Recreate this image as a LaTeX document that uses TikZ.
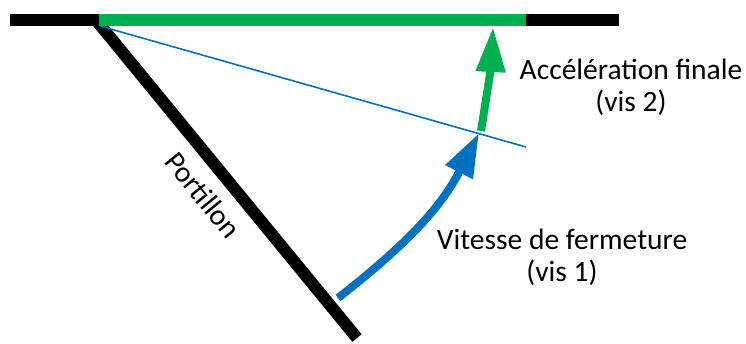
\documentclass[tikz,border=0pt]{standalone}
\usepackage{fontspec}
\setmainfont{Carlito}
\usetikzlibrary{arrows.meta}
\definecolor{myblue}{HTML}{0070C0}
\definecolor{mygreen}{HTML}{00B050}
\tikzset{
  bar/.style={line width=12pt, line cap=butt},
  arc/.style={line width=8pt, line cap=butt},
  lbl/.style={font=\fontsize{29.5}{32}\selectfont, align=center, inner sep=0pt},
}
\begin{document}
\begin{tikzpicture}[x=1pt,y=1pt]
\useasboundingbox (0,0) rectangle (746,344);
% coordinates: (x, 344 - y_image)
\coordinate (barL) at (9.5,324);
\coordinate (barR) at (619,324);
\coordinate (hinge) at (96,324);
\coordinate (gL) at (99,324);
\coordinate (gR) at (526,324);
\coordinate (gateEnd) at (357,6);
\coordinate (thinS) at (100,318);
\coordinate (thinE) at (526,197);
\coordinate (bS) at (338,46);
\coordinate (bT) at (479,211);
\coordinate (gS) at (481,213);
\coordinate (gT) at (493,317);
\draw[bar, black] (barL) -- (barR);
\draw[bar, black] (hinge) -- (gateEnd);
\draw[bar, mygreen] (gL) -- (gR);
\draw[myblue, line width=1.6pt] (thinS) -- (thinE);
\draw[arc, myblue, -{Triangle[length=44pt,width=29pt]}] (bS) to[out=38,in=243] (bT);
\draw[arc, mygreen, -{Triangle[length=45pt,width=28pt]}] (gS) to[out=81,in=267] (gT);
\node[lbl, anchor=base] (acc) at (631,232) {Accélération finale\\(vis 2)};
\node[lbl, anchor=base] (vit) at (562,62) {Vitesse de fermeture\\(vis 1)};
\node[lbl, rotate=-50.7] (port) at (203,149) {Portillon};
\end{tikzpicture}
\end{document}
